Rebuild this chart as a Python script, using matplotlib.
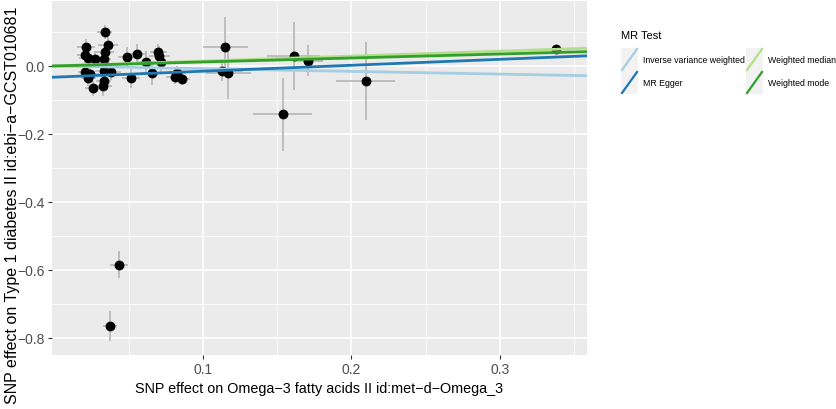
import matplotlib

matplotlib.use("Agg")

import matplotlib.pyplot as plt
from matplotlib.lines import Line2D
from matplotlib.patches import Rectangle
from matplotlib.ticker import MultipleLocator, FixedLocator
import numpy as np

# SNP effects (exposure = Omega-3, outcome = T1D)
beta_exp = [0.0338, 0.0212, 0.0203, 0.0224, 0.0270, 0.0360, 0.0342, 0.0330,
            0.0207, 0.0240, 0.0226, 0.0330, 0.0380, 0.0330, 0.0325, 0.0257,
            0.0490, 0.0553, 0.0513, 0.0616, 0.0654, 0.0700, 0.0706, 0.0715,
            0.0810, 0.0827, 0.0860, 0.1150, 0.1130, 0.1170, 0.1537, 0.1610,
            0.1710, 0.2096, 0.3380, 0.0434, 0.0374]
beta_out = [0.099, 0.055, 0.032, 0.023, 0.021, 0.062, 0.040, 0.021,
            -0.019, -0.024, -0.036, -0.014, -0.017, -0.043, -0.058, -0.066,
            0.026, 0.035, -0.036, 0.013, -0.021, 0.040, 0.029, 0.011,
            -0.033, -0.021, -0.038, 0.057, -0.014, -0.021, -0.142, 0.030,
            0.016, -0.045, 0.050, -0.585, -0.765]
se_exp = [0.005, 0.006, 0.005, 0.006, 0.005, 0.007, 0.006, 0.005,
          0.005, 0.006, 0.005, 0.006, 0.007, 0.005, 0.006, 0.005,
          0.006, 0.007, 0.006, 0.006, 0.007, 0.006, 0.007, 0.006,
          0.006, 0.006, 0.005, 0.015, 0.014, 0.015, 0.020, 0.018,
          0.010, 0.020, 0.004, 0.006, 0.005]
se_out = [0.020, 0.025, 0.022, 0.025, 0.022, 0.025, 0.030, 0.035,
          0.020, 0.025, 0.022, 0.030, 0.025, 0.028, 0.030, 0.022,
          0.030, 0.030, 0.028, 0.030, 0.035, 0.025, 0.030, 0.035,
          0.020, 0.022, 0.018, 0.088, 0.030, 0.076, 0.107, 0.100,
          0.045, 0.115, 0.012, 0.040, 0.043]

# MR estimates (slope through origin, Egger with intercept)
methods = ["Inverse variance weighted", "MR Egger", "Weighted median", "Weighted mode"]
slopes = [-0.080, 0.175, 0.145, 0.117]
intercepts = [0.0, -0.033, 0.0, 0.0]
colors = ["#a6cee3", "#1f78b4", "#b2df8a", "#33a02c"]

FONT = ["Liberation Sans", "DejaVu Sans"]


def main() -> None:
    plt.rcParams["font.family"] = FONT
    fig = plt.figure(figsize=(8.37, 4.10), dpi=100)
    ax = fig.add_axes([52 / 837, 1 - 356 / 410, (587 - 52) / 837, (356 - 2) / 410])
    ax.set_facecolor("#EBEBEB")
    for s in ax.spines.values():
        s.set_visible(False)

    x = np.array(beta_exp)
    y = np.array(beta_out)
    ax.errorbar(x, y, yerr=se_out, fmt="none", ecolor="#B5B5B5", elinewidth=1.2, capsize=0, zorder=2)
    ax.errorbar(x, y, xerr=se_exp, fmt="none", ecolor="#B5B5B5", elinewidth=1.2, capsize=0, zorder=2)
    ax.scatter(x, y, s=50, color="black", zorder=3, linewidths=0)

    for m, b, c in zip(slopes, intercepts, colors):
        ax.axline((0.0, b), slope=m, color=c, lw=2.0, zorder=4)

    ax.set_xlim(-0.0017, 0.3586)
    ax.set_ylim(-0.85, 0.191)
    ax.xaxis.set_major_locator(FixedLocator([0.1, 0.2, 0.3]))
    ax.xaxis.set_minor_locator(FixedLocator([0.05, 0.15, 0.25, 0.35]))
    ax.yaxis.set_major_locator(MultipleLocator(0.2))
    ax.yaxis.set_minor_locator(MultipleLocator(0.1))
    ax.grid(which="major", color="white", lw=1.2, zorder=0)
    ax.grid(which="minor", color="white", lw=0.6, zorder=0)
    ax.set_axisbelow(True)
    ax.tick_params(which="major", length=3, width=0.8, color="#333333",
                   labelcolor="#4D4D4D", labelsize=10, pad=2)
    ax.tick_params(which="minor", length=0)
    ax.yaxis.set_major_formatter(plt.FuncFormatter(lambda v, p: f"{v:.1f}".replace("-", "\u2212")))
    ax.xaxis.set_major_formatter(plt.FuncFormatter(lambda v, p: f"{v:.1f}"))

    ax.set_xlabel("SNP effect on Omega\u22123 fatty acids II id:met\u2212d\u2212Omega_3",
                  fontsize=10.4, labelpad=4)
    fig.text(0.015, 0.5, "SNP effect on Type 1 diabetes II id:ebi\u2212a\u2212GCST010681",
             rotation=90, ha="center", va="center", fontsize=11.5)

    # legend, two columns
    fig.text(621 / 837, 1 - 36 / 410, "MR Test", fontsize=8, va="center", ha="left")
    key_x = [621, 621, 746, 746]
    key_y = [49, 72, 49, 72]
    for name, c, kx, ky in zip(methods, colors, key_x, key_y):
        w, h = 17, 23
        fig.add_artist(Rectangle((kx / 837, 1 - (ky + h) / 410), w / 837, h / 410,
                                 transform=fig.transFigure, facecolor="#F2F2F2",
                                 edgecolor="none"))
        fig.add_artist(Line2D([(kx + 1) / 837, (kx + w - 1) / 837],
                              [1 - (ky + h - 1) / 410, 1 - (ky + 1) / 410],
                              transform=fig.transFigure, color=c, lw=1.6))
        fig.text((kx + w + 5) / 837, 1 - (ky + h / 2) / 410, name,
                 fontsize=6.3, va="center", ha="left")

    fig.savefig("out.png", dpi=100)
    plt.close(fig)


if __name__ == "__main__":
    main()
